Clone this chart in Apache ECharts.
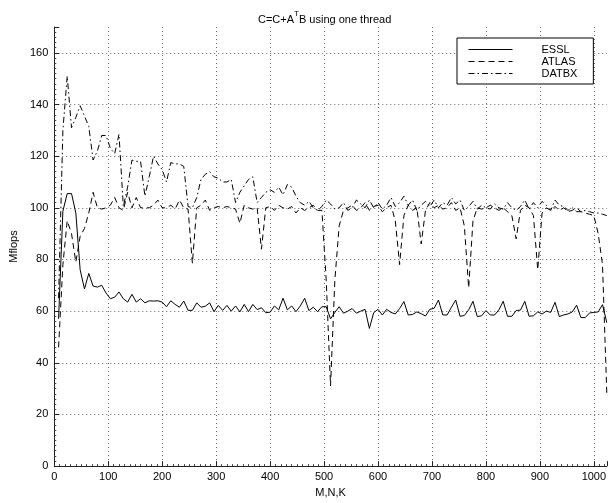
<!DOCTYPE html>
<html>
<head>
<meta charset="utf-8">
<script src="https://cdn.jsdelivr.net/npm/echarts@6/dist/echarts.min.js"></script>
<style>html,body{margin:0;padding:0;background:#fff;}#c{width:609px;height:503px;}</style>
</head>
<body>
<div id="c"></div>
<script>
// Problem sizes M=N=K
var sizes = [
  8,16,24,32,40,48,56,64,72,80,88,96,104,112,120,128,
  136,144,152,160,168,176,184,192,200,208,216,224,232,240,248,256,
  264,272,280,288,296,304,312,320,328,336,344,352,360,368,376,384,
  392,400,408,416,424,432,440,448,456,464,472,480,488,496,504,512,
  520,528,536,544,552,560,568,576,584,592,600,608,616,624,632,640,
  648,656,664,672,680,688,696,704,712,720,728,736,744,752,760,768,
  776,784,792,800,808,816,824,832,840,848,856,864,872,880,888,896,
  904,912,920,928,936,944,952,960,968,976,984,992,1000,1008,1016,1024
];
var essl = [
  57,98.7,105.5,105.5,98,76,68.6,74.6,69.7,69.3,70,67,64.8,65.4,67.4,64.8,
  63.5,66.5,63.5,64.8,63.2,64,63.9,64,63.5,61.7,64,62.6,61.5,63.9,60.3,60.3,
  63.2,61.5,61.9,63.2,59.8,62.2,60.3,62.2,60,62,59.7,62.6,59.8,62.6,60.6,61.3,
  59.4,59.6,62,60.5,65,60.5,62,59.8,62,65,60.2,61.5,59.8,61.7,61.7,57,
  59.5,61.7,59.2,60,61,59.2,60,60.7,53.3,59.4,60.7,58.5,60.7,59.5,58.9,61,
  63.7,58.5,58.7,59.7,59,58.1,60.7,61.1,64.3,58.5,58.5,61.5,64.3,58,58.3,60.5,
  63.8,57.9,58.2,60.2,58.5,58.5,60.5,63.8,58,58,60.2,60.4,63.8,58,58.2,59.7,
  58.9,60,59.5,63.4,57.9,58.5,58.9,59.7,62.3,57.5,57.5,59.3,59.5,59.7,62.5,55.5
];
var atlas = [
  46,78,95,90,79,89,92,98,106,100,99.5,100,101,104,100,99,
  106,100,104,100,100,100,101,103,100,100,101,99.5,103,100,99.5,78.5,
  100,101,103,99,100,100.5,100,100.5,100,99.5,94,101,100,99.5,100,84,
  100,100.5,99,101,100,99.5,100.5,98,100,99,100,101,99,99,72,31,
  72,93,99,100,101,99,100,102,99,100.5,101,98.5,100,101,95,78,
  97,101,99,100,86,99,102,100,101,99.5,100,102,99,100,93,69,
  95,100,99.5,100,101,100,99,100,98.5,97,88,99,101,100,97,76,
  98,100,99,100.5,99,100,98.5,99,100,98.5,98,97.5,97,90,78,28
];
var datbx = [
  65,130,151,131,135,139.5,135.5,131.5,118.5,122,128,128,123,121,128.5,100.5,
  108,118.5,118,118,104.5,112,120,117,114.8,110,117.5,117,117,116,100.5,100,
  104,111,113,114,112,111.5,110,110,111,102,106,108.5,111,112,102,104,
  106,107,106,108,105,109,108,104.5,102,101,102.5,100,99,100.5,103,101.5,
  99.5,100,102,99,100,103,101.5,100,103,100,102,99.5,101,104,100.5,102,
  104.5,101,103,99,101,102.5,100.5,103,100,102,101,104,101.5,103,99,100.5,
  102.5,99.5,101,100,99.5,101.5,100,99.5,102,100,99,100.5,103,99.5,102,100,
  102.5,101,99,103,101,100.5,99,100,98.5,98.5,99,98.5,98,98,97.5,97
];
var seriesNames = ['ESSL', 'ATLAS', 'DATBX'];

function pairs(vals) { return sizes.map(function (s, i) { return [s, vals[i]]; }); }

var FONT = '"Liberation Sans", Arial, Helvetica, sans-serif';
var chart = echarts.init(document.getElementById('c'), null, { renderer: 'canvas' });
var gridLine = { show: true, showMaxLine: false, showMinLine: false, lineStyle: { color: '#666', type: [1, 3], width: 1 } };

chart.setOption({
  animation: false,
  backgroundColor: '#fff',
  title: {
    text: '{a|C=C+A}{s|T}{a|B using one thread}',
    left: 253, top: 4,
    textStyle: {
      fontWeight: 'normal',
      rich: {
        a: { fontSize: 11, fontFamily: FONT, fontWeight: 'normal', color: '#000', lineHeight: 16, verticalAlign: 'bottom' },
        s: { fontSize: 8, fontFamily: FONT, fontWeight: 'normal', color: '#000', lineHeight: 16, verticalAlign: 'bottom', padding: [0, 0, 7, 0] }
      }
    }
  },
  grid: { left: 50, right: 2, top: 27, bottom: 36, containLabel: false },
  legend: {
    orient: 'vertical',
    left: 457, top: 38,
    data: seriesNames,
    itemWidth: 44, itemHeight: 10, itemGap: 1,
    padding: [6, 16, 5, 11],
    backgroundColor: '#fff',
    borderColor: '#000', borderWidth: 1,
    itemStyle: { opacity: 0 },
    lineStyle: { width: 1, color: '#000' },
    textStyle: { fontSize: 11, fontFamily: FONT, color: '#000', lineHeight: 11, padding: [0, 0, 0, 24] },
    selectedMode: false
  },
  xAxis: {
    type: 'value', min: 0, max: 1024, interval: 100,
    name: 'M,N,K', nameLocation: 'middle', nameGap: 20,
    nameTextStyle: { fontSize: 11, fontFamily: FONT, color: '#000' },
    axisLine: { show: true, lineStyle: { color: '#222', width: 1 } },
    axisTick: { show: true, inside: true, length: 5, lineStyle: { color: '#222' } },
    minorTick: { show: true, splitNumber: 10, length: 2, lineStyle: { color: '#444' } },
    axisLabel: { fontSize: 11, fontFamily: FONT, color: '#000', margin: 5, showMaxLabel: false,
      formatter: function (v) { return String(v); } },
    splitLine: gridLine
  },
  yAxis: {
    type: 'value', min: 0, max: 170, interval: 20,
    name: 'Mflops', nameLocation: 'middle', nameGap: 32, nameRotate: 90,
    nameTextStyle: { fontSize: 11, fontFamily: FONT, color: '#000' },
    axisLine: { show: true, lineStyle: { color: '#222', width: 1 } },
    axisTick: { show: true, inside: true, length: 5, lineStyle: { color: '#222' } },
    minorTick: { show: true, splitNumber: 10, length: 2, lineStyle: { color: '#444' } },
    axisLabel: { fontSize: 11, fontFamily: FONT, color: '#000', margin: 6, showMaxLabel: false },
    splitLine: gridLine
  },
  series: [
    { name: 'ESSL', type: 'line', data: pairs(essl), symbol: 'none', lineStyle: { color: '#000', width: 1, type: 'solid' }, itemStyle: { color: '#000' }, z: 3 },
    { name: 'ATLAS', type: 'line', data: pairs(atlas), symbol: 'none', lineStyle: { color: '#000', width: 1, type: [6, 4] }, itemStyle: { color: '#000' }, z: 2 },
    { name: 'DATBX', type: 'line', data: pairs(datbx), symbol: 'none', lineStyle: { color: '#000', width: 1, type: [6, 3, 1.5, 3] }, itemStyle: { color: '#000' }, z: 2 }
  ]
});
</script>
</body>
</html>
